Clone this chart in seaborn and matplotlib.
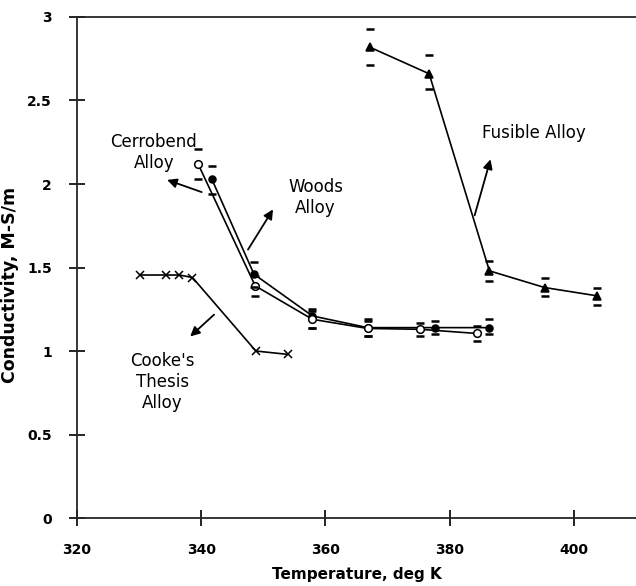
import matplotlib
matplotlib.use("Agg")
import matplotlib.pyplot as plt
import seaborn as sns
import pandas as pd

# data
fusible_t = [367.1, 376.7, 386.4, 395.3, 403.8]
fusible_c = [2.82, 2.66, 1.48, 1.38, 1.33]
fusible_hi = [2.93, 2.77, 1.54, 1.44, 1.38]
fusible_lo = [2.71, 2.57, 1.42, 1.33, 1.275]

woods_t = [341.7, 348.5, 357.9, 366.8, 377.7, 386.3]
woods_c = [2.03, 1.46, 1.21, 1.14, 1.14, 1.14]
woods_hi = [2.11, 1.535, 1.25, 1.19, 1.18, 1.19]
woods_lo = [1.94, 1.385, 1.14, 1.09, 1.10, 1.10]

cerro_t = [339.5, 348.7, 357.9, 366.8, 375.2, 384.4]
cerro_c = [2.12, 1.39, 1.19, 1.135, 1.13, 1.105]
cerro_hi = [2.21, 1.45, 1.24, 1.18, 1.17, 1.15]
cerro_lo = [2.03, 1.33, 1.14, 1.09, 1.09, 1.06]

cooke_t = [330.1, 334.4, 336.5, 338.6, 348.8, 353.9]
cooke_c = [1.455, 1.455, 1.455, 1.44, 1.0, 0.98]

xticks = [320, 340, 360, 380, 400]
yticks = [0, 0.5, 1, 1.5, 2, 2.5, 3]

sns.set_style("ticks")
plt.rcParams['font.family'] = ['DejaVu Sans']
plt.rcParams['text.color'] = 'black'
plt.rcParams['xtick.color'] = 'black'
plt.rcParams['ytick.color'] = 'black'
plt.rcParams['axes.labelcolor'] = 'black'

fig = plt.figure(figsize=(6.36, 5.86), dpi=100)
ax = fig.add_axes([0.121, 0.116, 0.879, 0.855])

series = [
    (fusible_t, fusible_c, "^", "black", 5.5),
    (woods_t, woods_c, "o", "black", 5),
    (cerro_t, cerro_c, "o", "white", 5.5),
    (cooke_t, cooke_c, "x", "black", 6),
]
for t, c, m, fc, ms in series:
    df = pd.DataFrame({"t": t, "c": c})
    sns.lineplot(data=df, x="t", y="c", sort=False, color="black", lw=1.2,
                 marker=m, markersize=ms,
                 markerfacecolor=fc, markeredgecolor="black",
                 markeredgewidth=1.1, ax=ax)

# error caps
for t, hi, lo in [(fusible_t, fusible_hi, fusible_lo),
                  (woods_t, woods_hi, woods_lo),
                  (cerro_t, cerro_hi, cerro_lo)]:
    ax.plot(t, hi, ls="none", marker="_", ms=6, mew=1.8, color="black")
    ax.plot(t, lo, ls="none", marker="_", ms=6, mew=1.8, color="black")

arrow = dict(arrowstyle="-|>", color="black", lw=1.3, mutation_scale=14)
ax.annotate("", xy=(334.1, 2.03), xytext=(340.5, 1.946), arrowprops=arrow)
ax.annotate("", xy=(351.8, 1.862), xytext=(347.3, 1.593), arrowprops=arrow)
ax.annotate("", xy=(386.7, 2.164), xytext=(383.9, 1.796), arrowprops=arrow)
ax.annotate("", xy=(337.9, 1.076), xytext=(342.4, 1.229), arrowprops=arrow)

tk = dict(fontsize=12, ha="center", va="center", linespacing=1.2)
ax.text(332.4, 2.19, "Cerrobend\nAlloy", **tk)
ax.text(358.4, 1.92, "Woods\nAlloy", **tk)
ax.text(393.5, 2.305, "Fusible Alloy", **tk)
ax.text(333.8, 0.815, "Cooke's\nThesis\nAlloy", **tk)

ax.set_xlim(320, 410)
ax.set_ylim(0, 3)
ax.set_xticks(xticks)
ax.set_yticks(yticks)
ax.set_yticklabels(["0", "0.5", "1", "1.5", "2", "2.5", "3"])
ax.tick_params(direction="inout", length=12, width=1.2, labelsize=10, pad=12)
for lab in ax.get_xticklabels() + ax.get_yticklabels():
    lab.set_fontweight("bold")
ax.set_xlabel("Temperature, deg K", fontsize=11, fontweight="bold", labelpad=7)
ax.set_ylabel("Conductivity, M-S/m", fontsize=12.5, fontweight="bold")
ax.yaxis.set_label_coords(-0.103, 0.465)
for s in ["left", "bottom", "top"]:
    ax.spines[s].set_linewidth(1.3)
ax.spines["right"].set_visible(False)

fig.savefig("out.png", dpi=100)
